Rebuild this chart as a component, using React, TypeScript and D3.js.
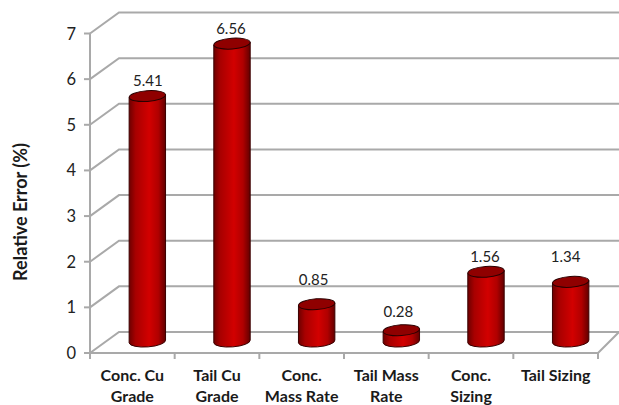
import React from "react";
import * as d3 from "d3";

const categoryKeys = ["a", "b", "c", "d", "e", "f"];
const categoryLines = [
  ["Conc. Cu", "Grade"],
  ["Tail Cu", "Grade"],
  ["Conc.", "Mass Rate"],
  ["Tail Mass", "Rate"],
  ["Conc.", "Sizing"],
  ["Tail Sizing"],
];
const values = [5.41, 6.56, 0.85, 0.28, 1.56, 1.34];
const yTicks = [0, 1, 2, 3, 4, 5, 6, 7];
// Hand-placed data labels: nudge from the default spot above each cylinder
const labelNudgeX = [0.5, -1, -3, -3, -1, -5];
const labelNudgeY = [0, 0, -9, -3, 0, -10];

const W = 619;
const H = 405;
const depthX = 29;
const depthY = 21;
const gridColor = "#a9a9a9";
const labelFont = "Lato, 'Open Sans', sans-serif";

const x = d3.scaleBand<string>().domain(categoryKeys).range([90, 598]).padding(0);
const y = d3.scaleLinear().domain([0, 7]).range([353, 33.5]);

// Cylinders stand on the floor, between the front edge and the back wall
const barOffsetX = 15;
const topOffsetY = -10;
const baseOffsetY = -11.5;
const barHalf = 18.2;
const rimRy = 5.4;
const tilt = 1.4;

function cylinderPath(cx: number, top: number, base: number) {
  const l = cx - barHalf;
  const r = cx + barHalf;
  return `M${l},${top + tilt}L${l},${base + tilt}A${barHalf},${rimRy} -4 0 0 ${r},${base - tilt}L${r},${top - tilt}Z`;
}

export default function App() {
  return (
    <svg
      width={W}
      height={H}
      viewBox={`0 0 ${W} ${H}`}
      style={{ position: "absolute", left: 0, top: 0, background: "#fff" }}
    >
      <defs>
        <linearGradient id="barFill" x1="0" x2="1" y1="0" y2="0">
          <stop offset="0" stopColor="#6e0000" />
          <stop offset="0.18" stopColor="#a80000" />
          <stop offset="0.55" stopColor="#d20000" />
          <stop offset="0.8" stopColor="#b00000" />
          <stop offset="1" stopColor="#620000" />
        </linearGradient>
      </defs>

      {/* Back wall gridlines with their diagonal returns to the value axis */}
      {yTicks.map((t) => (
        <g key={t} stroke={gridColor} strokeWidth={2} fill="none">
          <path d={`M90,${y(t)}L${90 + depthX},${y(t) - depthY}L${W},${y(t) - depthY}`} />
          <line x1={84} x2={90} y1={y(t)} y2={y(t)} />
        </g>
      ))}

      {/* Value axis, floor edge and category ticks */}
      <g stroke={gridColor} strokeWidth={2} fill="none">
        <line x1={90} x2={90} y1={y(7)} y2={y(0)} />
        <line x1={90} x2={598} y1={y(0)} y2={y(0)} />
        <line x1={598} x2={598 + 21} y1={y(0)} y2={y(0) - 21} />
        {[...categoryKeys.map((c) => x(c) as number), 598].map((p) => (
          <line key={p} x1={p} x2={p} y1={y(0)} y2={y(0) + 6} />
        ))}
      </g>

      {/* Cylinders */}
      {values.map((v, i) => {
        const cx = (x(categoryKeys[i]) as number) + x.bandwidth() / 2 + barOffsetX;
        const top = y(v) + topOffsetY;
        const base = y(0) + baseOffsetY;
        return (
          <g key={categoryKeys[i]}>
            <path
              d={cylinderPath(cx, top, base)}
              fill="url(#barFill)"
              stroke="#3a0000"
              strokeWidth={1}
            />
            <ellipse
              cx={cx}
              cy={top}
              rx={barHalf}
              ry={rimRy}
              transform={`rotate(-4 ${cx} ${top})`}
              fill="#8f0000"
              stroke="#2a0000"
              strokeWidth={1}
            />
            <text
              x={cx + labelNudgeX[i]}
              y={top - 10 + labelNudgeY[i]}
              textAnchor="middle"
              fontFamily={labelFont}
              fontSize={15}
              fill="#222"
            >
              {v.toFixed(2)}
            </text>
          </g>
        );
      })}

      {/* Value axis labels */}
      {yTicks.map((t) => (
        <text
          key={t}
          x={76}
          y={y(t) + 6}
          textAnchor="end"
          fontFamily={labelFont}
          fontSize={16.5}
          fill="#222"
        >
          {t}
        </text>
      ))}

      {/* Category labels */}
      {categoryLines.map((lines, i) => {
        const cx = (x(categoryKeys[i]) as number) + x.bandwidth() / 2;
        return (
          <text
            key={categoryKeys[i]}
            textAnchor="middle"
            fontFamily={labelFont}
            fontSize={16}
            fontWeight={700}
            fill="#1a1a1a"
          >
            {lines.map((line, j) => (
              <tspan key={j} x={cx} y={381 + j * 21}>
                {line}
              </tspan>
            ))}
          </text>
        );
      })}

      <text
        transform="translate(27,212) rotate(-90)"
        textAnchor="middle"
        fontFamily={labelFont}
        fontSize={18}
        fontWeight={700}
        fill="#1a1a1a"
      >
        Relative Error (%)
      </text>
    </svg>
  );
}
